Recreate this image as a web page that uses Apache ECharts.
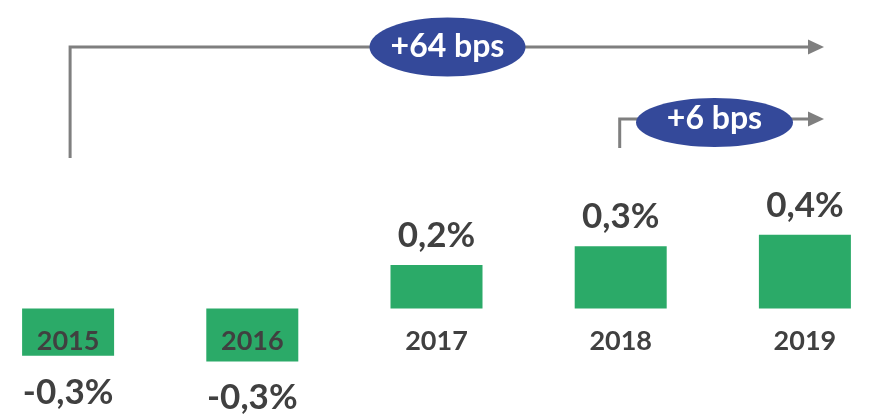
<!DOCTYPE html>
<html>
<head>
<meta charset="utf-8">
<script src="https://cdn.jsdelivr.net/npm/echarts@6/dist/echarts.min.js"></script>
<style>
  html, body { margin: 0; padding: 0; background: #fff; }
  #chart { width: 871px; height: 419px; }
</style>
</head>
<body>
<div id="chart"></div>
<script>
// data
const years = ['2015', '2016', '2017', '2018', '2019']
const values = [-0.25, -0.28, 0.23, 0.33, 0.39]
const longChange = '+64 bps'
const shortChange = '+6 bps'

const GREEN = '#2BAA68'
const TEXT = '#404040'
const GREY = '#7F7F7F'
const NAVY = '#34499A'
const FONT = 'Lato, "Open Sans", "Liberation Sans", sans-serif'

const chart = echarts.init(document.getElementById('chart'))

function pct(v) {
  return v.toFixed(1).replace('.', ',') + '%'
}

chart.setOption({
  animation: false,
  grid: { left: -24, right: -26, top: 214, bottom: 16, outerBoundsMode: 'none', containLabel: false },
  xAxis: {
    type: 'category',
    data: years,
    axisLine: { show: false },
    axisTick: { show: false },
    axisLabel: { show: false }
  },
  yAxis: {
    type: 'value',
    min: -0.5,
    max: 0.5,
    show: false
  },
  series: [
    {
      type: 'bar',
      barWidth: 92,
      data: values.map((v) => ({
        value: v,
        label: {
          position: v < 0 ? 'bottom' : 'top',
          distance: v < 0 ? 19 : 12
        }
      })),
      itemStyle: { color: GREEN },
      label: {
        show: true,
        fontSize: 35,
        fontWeight: 'bold',
        fontFamily: FONT,
        color: TEXT,
        formatter: (p) => pct(p.value)
      }
    },
    {
      // year labels sit just under the zero line, over the negative bars
      type: 'scatter',
      z: 5,
      silent: true,
      symbolSize: 0,
      itemStyle: { opacity: 1 },
      data: years.map((y) => [y, 0]),
      label: {
        show: true,
        position: 'bottom',
        distance: 19,
        fontSize: 27,
        fontWeight: 'bold',
        fontFamily: FONT,
        color: TEXT,
        opacity: 1,
        formatter: (p) => p.value[0]
      }
    }
  ]
})

// change arrows, anchored on the start year of each comparison
function arrow(x0, yStart, yLine, text, ell) {
  return [
    {
      type: 'polyline',
      shape: { points: [[x0, yStart], [x0, yLine], [810, yLine]] },
      style: { stroke: GREY, lineWidth: 3, fill: null }
    },
    {
      type: 'polygon',
      shape: { points: [[808, yLine - 7.5], [824, yLine], [808, yLine + 7.5]] },
      style: { fill: GREY }
    },
    {
      type: 'ellipse',
      shape: ell,
      style: { fill: NAVY }
    },
    {
      type: 'text',
      style: {
        x: ell.cx,
        y: yLine,
        text: text,
        fill: '#fff',
        font: 'bold 32px ' + FONT,
        align: 'center',
        verticalAlign: 'middle'
      }
    }
  ]
}

const x2015 = chart.convertToPixel({ xAxisIndex: 0 }, years[0]) + 2
const x2018 = chart.convertToPixel({ xAxisIndex: 0 }, years[3]) - 1

chart.setOption({
  graphic: [
    ...arrow(x2015, 158, 47, longChange, { cx: 447.5, cy: 47, rx: 78, ry: 29.5 }),
    ...arrow(x2018, 148, 119, shortChange, { cx: 714.5, cy: 122.5, rx: 78.5, ry: 24.5 })
  ]
})

window.addEventListener('resize', () => chart.resize())
</script>
</body>
</html>
